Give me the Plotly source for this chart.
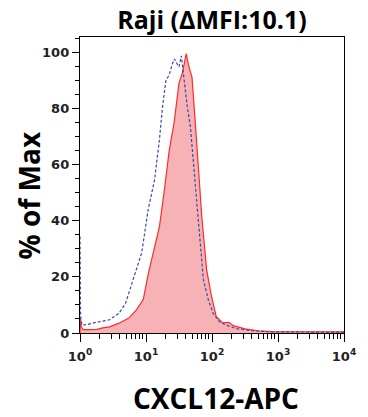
import plotly.graph_objects as go

# ---- data ----
red_x = [1.00, 1.01, 1.05, 1.12, 1.4, 1.8, 2.2, 2.8, 3.9, 5.5, 7.2, 9.1, 10.8, 13.5, 16, 19,
         22.5, 26.7, 31.6, 35.5, 40.7, 44.5, 49.8, 55.8, 62.5, 70, 83, 98.4, 116, 146, 180,
         210, 316, 500, 800, 2000, 10000]
red_y = [0, 5.5, 2.0, 1.2, 1.2, 1.3, 1.8, 2.2, 3.5, 5.3, 8.3, 12, 21, 31, 38, 51,
         65, 75, 89, 92.5, 99.5, 95, 91, 75, 59.5, 41.5, 22.5, 13, 5.8, 3.6, 3.8,
         2.6, 1.5, 0.8, 0.5, 0.4, 0.4]

blue_x = [1.00, 1.02, 1.07, 1.3, 1.6, 2.0, 2.8, 3.9, 4.9, 5.8, 7.3, 8.6, 10.8, 13.5, 16, 17.7,
          20, 22.5, 25.2, 27, 30, 31.6, 34.3, 37.6, 42, 47, 52.7, 59, 66, 74, 88, 104,
          130, 164, 230, 400, 800, 10000]
blue_y = [34.4, 6, 2.8, 3.0, 3.6, 4.0, 4.7, 7, 10.6, 16, 23.7, 28.5, 44, 54.6, 69, 80,
          89.8, 92, 96, 97.6, 95.5, 94.8, 98.7, 90, 81, 73.6, 59.4, 45, 30.8, 19, 11.8, 7,
          4, 2.8, 1.6, 0.8, 0.4, 0.3]

x_tickvals = [1, 10, 100, 1000, 10000]
x_ticktext = ["10<sup>0</sup>", "10<sup>1</sup>", "10<sup>2</sup>", "10<sup>3</sup>", "10<sup>4</sup>"]
y_tickvals = [0, 20, 40, 60, 80, 100]

title_text = "Raji (ΔMFI:10.1)"
x_title = "CXCL12-APC"
y_title = "% of Max"

minor_x = [m * d for d in [1, 10, 100, 1000] for m in range(2, 10)]

fig = go.Figure()
fig.add_trace(go.Scatter(
    x=red_x, y=red_y, mode="lines", fill="tozeroy",
    line=dict(color="#ff2b2b", width=1.2), fillcolor="#f6b2b5",
    showlegend=False, hoverinfo="skip"))
fig.add_trace(go.Scatter(
    x=blue_x, y=blue_y, mode="lines",
    line=dict(color="#3a4aa6", width=1.2, dash="3px,2px"),
    showlegend=False, hoverinfo="skip"))

tickfont = dict(family="DejaVu Sans", size=13, color="#222222", weight="bold")

fig.update_layout(
    width=368, height=417,
    margin=dict(l=80, r=17, t=37, b=84),
    paper_bgcolor="white", plot_bgcolor="white",
    title=dict(text=title_text, x=0.5, xref="paper", xanchor="center",
               y=1 - 20 / 417, yref="container", yanchor="middle",
               font=dict(family="Open Sans", size=25, color="black", weight="bold")),
    xaxis=dict(type="log", range=[0, 4], tickmode="array", tickvals=x_tickvals,
               ticktext=x_ticktext, ticks="outside", ticklen=8, tickwidth=1.4,
               tickcolor="black", showline=True, linecolor="black", linewidth=1.4,
               mirror=True, showgrid=False, zeroline=False, tickfont=tickfont,
               ticklabelstandoff=3,
               minor=dict(tickmode="array", tickvals=minor_x, ticks="outside",
                          ticklen=5, tickwidth=1.2, tickcolor="black", showgrid=False)),
    yaxis=dict(range=[0, 105.4], tickmode="array", tickvals=y_tickvals,
               ticks="outside", ticklen=7, tickwidth=1.4, tickcolor="black",
               showline=True, linecolor="black", linewidth=1.4, mirror=True,
               showgrid=False, zeroline=False, tickfont=tickfont,
               minor=dict(dtick=5, ticks="outside", ticklen=4, tickwidth=1.2,
                          tickcolor="black", showgrid=False)),
    annotations=[
        dict(text=x_title, xref="paper", yref="paper", x=0.517, y=-0.221,
             xanchor="center", yanchor="middle", showarrow=False,
             font=dict(family="Open Sans", size=28, color="black", weight="bold")),
        dict(text=y_title, xref="paper", yref="paper", x=-0.192, y=0.466,
             xanchor="center", yanchor="middle", showarrow=False, textangle=-90,
             font=dict(family="Open Sans", size=28, color="black", weight="bold")),
    ],
)

fig.write_html("out.html")
